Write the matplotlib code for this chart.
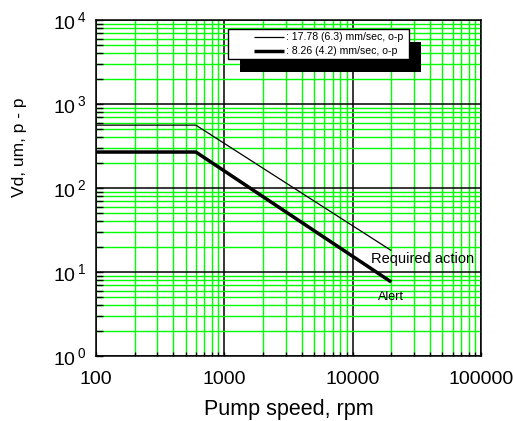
import numpy as np
import matplotlib
matplotlib.use("Agg")
import matplotlib.pyplot as plt
from matplotlib.ticker import LogLocator, FuncFormatter, NullFormatter
from matplotlib.legend_handler import HandlerLine2D
from matplotlib.patches import Rectangle

plt.rcParams['font.family'] = ['Liberation Sans', 'DejaVu Sans']
plt.rcParams['mathtext.default'] = 'regular'

# ---- data ----
speed_rpm = [100, 600, 20000]
required_action = [560, 560, 18]
alert = [268, 268, 7.6]
legend_labels = [": 17.78 (6.3) mm/sec, o-p ", ": 8.26 (4.2) mm/sec, o-p"]
x_ticks = [100, 1000, 10000, 100000]
y_ticks = [1, 10, 100, 1000, 10000]

fig = plt.figure(figsize=(5.13, 4.21), dpi=100)
ax = fig.add_axes([96/513, 65/421, 385/513, 336/421])

ax.set_xscale('log')
ax.set_yscale('log')
ax.set_xlim(100, 100000)
ax.set_ylim(1, 10000)

l1, = ax.plot(speed_rpm, required_action, color='black', lw=0.9, zorder=3,
              solid_capstyle='butt')
l2, = ax.plot(speed_rpm, alert, color='black', lw=2.5, zorder=3,
              solid_capstyle='butt')

ax.xaxis.set_minor_locator(LogLocator(base=10, subs=np.arange(2, 10), numticks=20))
ax.yaxis.set_minor_locator(LogLocator(base=10, subs=np.arange(2, 10), numticks=20))
ax.set_xticks(x_ticks)
ax.set_yticks(y_ticks)
ax.xaxis.set_major_formatter(FuncFormatter(lambda v, p: f"{int(round(v))}"))
ax.yaxis.set_major_formatter(FuncFormatter(
    lambda v, p: r"$10^{\,%d}$" % int(round(np.log10(v)))))
ax.xaxis.set_minor_formatter(NullFormatter())
ax.yaxis.set_minor_formatter(NullFormatter())

ax.grid(which='minor', color='#00ff00', lw=1.0, zorder=0)
ax.grid(which='major', color='black', lw=1.1, zorder=0)
ax.set_axisbelow(True)

ax.tick_params(axis='x', which='both', direction='in', length=3, width=1,
               labelsize=14, pad=11, top=False)
ax.tick_params(axis='y', which='both', direction='in', length=5, width=1,
               labelsize=14, pad=7, right=False)
for s in ax.spines.values():
    s.set_linewidth(1.1)
    s.set_color('black')

ax.set_xlabel("Pump speed, rpm", fontsize=15.5, labelpad=8)
ax.set_ylabel("Vd, um, p - p", fontsize=12.5)
ax.yaxis.set_label_coords(-0.18, 0.62)

ax.text(14000, 14.3, "Required action", fontsize=10.5, ha='left', va='center')
ax.text(20000, 5.0, "Alert", fontsize=9, ha='center', va='center')


class GapLine(HandlerLine2D):
    def create_artists(self, legend, orig_handle, xdescent, ydescent, width,
                       height, fontsize, trans):
        arts = super().create_artists(legend, orig_handle, xdescent, ydescent,
                                      width, height, fontsize, trans)
        for a in arts:
            x = np.asarray(a.get_xdata(), dtype=float)
            a.set_xdata(np.linspace(x[0] + 0.43 * width, x[-1], len(x)))
        return arts


leg = ax.legend([l1, l2], legend_labels, loc='upper left',
                bbox_to_anchor=(0.343, 0.973), borderaxespad=0,
                fontsize=7.6, handlelength=5.0, handletextpad=0.2,
                borderpad=0.3, labelspacing=0.38, fancybox=False,
                edgecolor='black', framealpha=1,
                handler_map={l1: GapLine(), l2: GapLine()})
leg.get_frame().set_linewidth(1.0)
leg.set_zorder(6)

fig.canvas.draw()
bb = leg.get_window_extent()
inv = ax.transAxes.inverted()
(x0, y0) = inv.transform((bb.x0 + 12, bb.y0 - 12.5))
(x1, y1) = inv.transform((bb.x1 + 12, bb.y1 - 12.5))
shadow = Rectangle((x0, y0), x1 - x0, y1 - y0, transform=ax.transAxes,
                   facecolor='black', edgecolor='none', zorder=5.5,
                   clip_on=False)
ax.add_patch(shadow)

fig.savefig("out.png", dpi=100)
